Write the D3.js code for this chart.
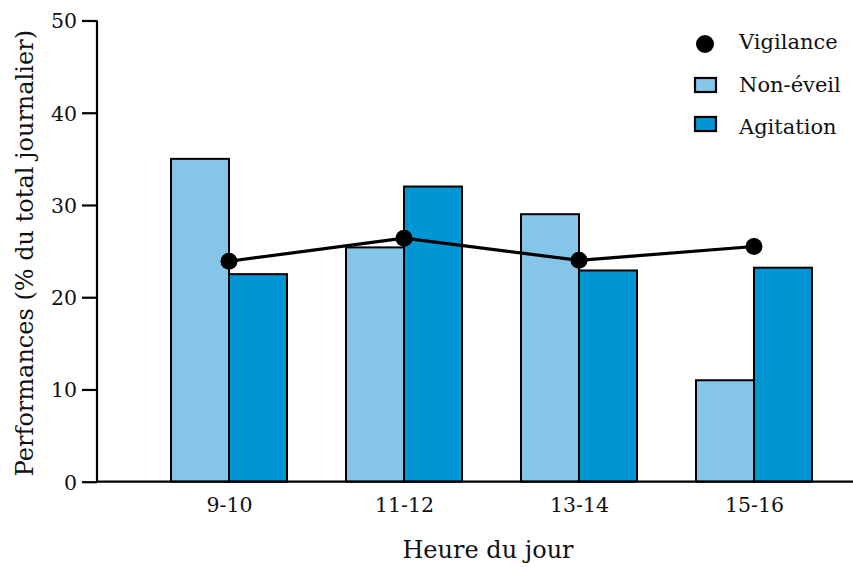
<!DOCTYPE html>
<html><head><meta charset="utf-8">
<script src="https://cdn.jsdelivr.net/npm/d3@7"></script>
<style>body{margin:0;background:#fff}svg{display:block}</style>
</head><body>
<svg id="c" width="853" height="567"></svg>
<script>
const categories = ["9-10", "11-12", "13-14", "15-16"];
const nonEveil = [35, 25.4, 29, 11];
const agitation = [22.5, 32, 22.9, 23.2];
const vigilance = [23.9, 26.4, 24.0, 25.5];
const yTicks = [0, 10, 20, 30, 40, 50];
const seriesNames = ["Vigilance", "Non-éveil", "Agitation"];

const FONT = "'Palatino Linotype','Book Antiqua',Palatino,'DejaVu Serif',serif";
const LIGHT = "#85C5EA", DARK = "#0096D3";
const svg = d3.select("#c");

const x = d3.scalePoint().domain(categories).range([141.5, 841.5]).padding(0.5);
const y = d3.scaleLinear().domain([0, 50]).range([481.7, 20.5]);
const barW = 58;

// bars
const g = svg.append("g");
g.selectAll("rect.ne").data(categories).join("rect")
  .attr("x", d => x(d) - barW).attr("y", (d,i) => y(nonEveil[i]))
  .attr("width", barW).attr("height", (d,i) => y(0) - y(nonEveil[i]))
  .attr("fill", LIGHT).attr("stroke", "#000").attr("stroke-width", 2);
g.selectAll("rect.ag").data(categories).join("rect")
  .attr("x", d => x(d)).attr("y", (d,i) => y(agitation[i]))
  .attr("width", barW).attr("height", (d,i) => y(0) - y(agitation[i]))
  .attr("fill", DARK).attr("stroke", "#000").attr("stroke-width", 2);

// y axis
const ya = svg.append("g").attr("transform", "translate(97,0)")
  .call(d3.axisLeft(y).tickValues(yTicks).tickSize(15).tickPadding(5).tickFormat(d3.format("d")));
ya.select(".domain").attr("stroke", "#000").attr("stroke-width", 2.2).attr("d", `M0,${y(50)}V${y(0)}`);
ya.selectAll(".tick line").attr("stroke-width", 2.2);
ya.selectAll(".tick text").attr("font-family", FONT).attr("font-size", 20.5).attr("fill", "#111").attr("dy", "0.36em");

// x axis
const xa = svg.append("g").attr("transform", `translate(0,${y(0)})`)
  .call(d3.axisBottom(x).tickSize(0).tickPadding(16));
xa.select(".domain").attr("stroke", "#000").attr("stroke-width", 2.2).attr("d", `M96,0H853`);
xa.selectAll(".tick text").attr("font-family", FONT).attr("font-size", 20.5).attr("fill", "#111").attr("dy", "0.71em");

// vigilance line
const line = d3.line().x((d,i) => x(categories[i])).y(d => y(d));
svg.append("path").datum(vigilance).attr("d", line)
  .attr("fill", "none").attr("stroke", "#000").attr("stroke-width", 3.2);
svg.selectAll("circle.v").data(vigilance).join("circle")
  .attr("cx", (d,i) => x(categories[i])).attr("cy", d => y(d)).attr("r", 8.5).attr("fill", "#000");

// axis titles
svg.append("text").attr("x", 488).attr("y", 558).attr("text-anchor", "middle")
  .attr("font-family", FONT).attr("font-size", 24).attr("fill", "#111").text("Heure du jour");
svg.append("text").attr("transform", `translate(33,${(y(0)+y(50))/2 + 2}) rotate(-90)`).attr("text-anchor", "middle")
  .attr("font-family", FONT).attr("font-size", 24).attr("fill", "#111").text("Performances (% du total journalier)");

// legend
const lg = svg.append("g");
lg.append("circle").attr("cx", 705).attr("cy", 44).attr("r", 9).attr("fill", "#000");
lg.append("rect").attr("x", 695).attr("y", 78).attr("width", 21).attr("height", 14).attr("fill", LIGHT).attr("stroke", "#000").attr("stroke-width", 2.2);
lg.append("rect").attr("x", 695).attr("y", 117).attr("width", 21).attr("height", 14).attr("fill", DARK).attr("stroke", "#000").attr("stroke-width", 2.2);
const ly = [49, 92, 134];
lg.selectAll("text").data(seriesNames).join("text")
  .attr("x", 739).attr("y", (d,i) => ly[i])
  .attr("font-family", FONT).attr("font-size", 21).attr("fill", "#111").text(d => d);
</script>
</body></html>
